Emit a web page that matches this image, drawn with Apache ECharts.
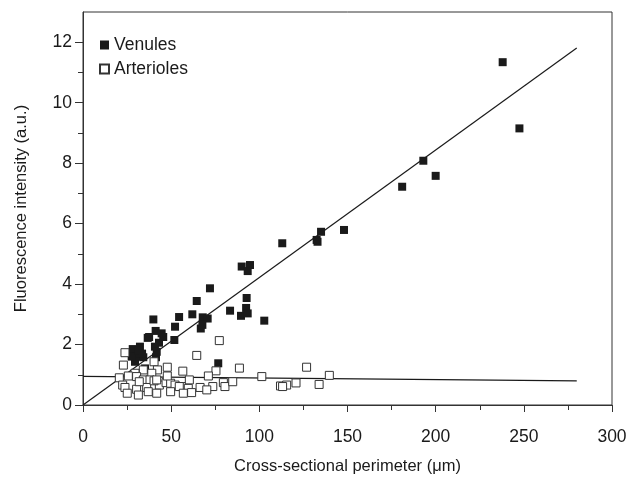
<!DOCTYPE html>
<html>
<head>
<meta charset="utf-8">
<script src="https://cdn.jsdelivr.net/npm/echarts@6/dist/echarts.min.js"></script>
<style>html,body{margin:0;padding:0;background:#fff}#c{width:632px;height:480px}</style>
</head>
<body>
<div id="c"></div>
<script>
// Venules: [perimeter (µm), fluorescence (a.u.)]
var venules = [
  [238,11.34],[247.5,9.15],[193,8.08],[200,7.58],[181,7.22],
  [148,5.79],[135,5.73],[132.5,5.46],[133,5.40],[113,5.35],
  [90,4.58],[94.7,4.63],[93.4,4.43],[72,3.86],[64.5,3.44],[92.8,3.54],
  [39.9,2.83],[54.5,2.91],[62,3.0],[67.9,2.90],[70.7,2.86],[83.4,3.12],
  [92.5,3.21],[89.6,2.95],[93.4,3.03],[102.8,2.79],[52.2,2.59],[66.8,2.53],
  [67.7,2.65],[41.2,2.45],[44.6,2.37],[36.7,2.22],[43.1,2.06],[51.8,2.15],
  [28.2,1.85],[32.3,1.93],[30.4,1.60],[34.2,1.58],[41.4,1.58],[29.5,1.43],
  [76.7,1.38],[35.2,1.21],[40.8,1.93],[41.8,1.76],[27.6,1.60],[31.5,1.80],
  [37.5,2.25],[45.5,2.25],[33.5,1.70]
];
// Arterioles
var arterioles = [
  [23.8,1.73],[22.9,1.32],[40.3,1.43],[64.5,1.64],[77.3,2.13],[56.6,1.12],
  [47.8,1.25],[42.2,1.16],[39,1.05],[34.2,1.16],[29.5,1.05],[75.4,1.13],
  [71.1,0.96],[88.7,1.22],[101.4,0.94],[112,0.63],[20.6,0.90],[25.7,0.96],
  [30.4,0.94],[34.2,0.83],[38,0.83],[43.3,0.66],[47.1,0.74],[49.7,0.72],
  [52.2,0.66],[56,0.61],[60.3,0.83],[59.7,0.55],[66.4,0.58],[73.6,0.61],
  [79.6,0.74],[80.5,0.61],[84.9,0.77],[22.5,0.66],[23.8,0.58],[25.1,0.39],
  [30.4,0.52],[31.4,0.33],[36.1,0.58],[37,0.44],[41.8,0.39],[49.7,0.44],
  [54.6,0.61],[56.9,0.39],[61.6,0.41],[70.2,0.50],[40.3,0.80],[31.9,0.77],
  [47.8,0.96],[41.8,0.83],[126.8,1.25],[139.7,0.98],[133.9,0.68],[120.8,0.73],
  [115.5,0.66],[113.2,0.61]
];
// Regression lines (end points)
var venuleFit = [[0,0],[280,11.81]];
var arterioleFit = [[0,0.95],[280,0.80]];

var xTicks = [0,50,100,150,200,250,300];
var yTicks = [0,2,4,6,8,10,12];
var yMinorTicks = [1,3,5,7,9,11];

var ink = '#1a1a1a';
var font = 'Liberation Sans, Arial, Helvetica, sans-serif';

var chart = echarts.init(document.getElementById('c'));
chart.setOption({
  animation: false,
  backgroundColor: '#fff',
  textStyle: {fontFamily: font, color: ink},
  grid: {left: 83, right: 20, top: 12, bottom: 75, show: true,
         borderColor: '#333', borderWidth: 1, backgroundColor: 'transparent'},
  legend: {
    data: ['Venules','Arterioles'], orient: 'vertical', left: 94, top: 31,
    itemWidth: 9, itemHeight: 9, itemGap: 6,
    textStyle: {fontSize: 17.5, color: ink, fontFamily: font}
  },
  xAxis: {
    type: 'value', min: 0, max: 300, interval: 50,
    name: 'Cross-sectional perimeter (\u03bcm)', nameLocation: 'middle', nameGap: 53,
    nameTextStyle: {fontSize: 16.5, color: ink, fontFamily: font},
    axisLine: {show: true, lineStyle: {color: '#333', width: 1}},
    axisTick: {show: true, inside: false, length: 7, lineStyle: {color: '#333'}},
    minorTick: {show: true, splitNumber: 2, length: 5, lineStyle: {color: '#333'}},
    axisLabel: {fontSize: 17.5, color: ink, margin: 23, fontFamily: font,
                customValues: xTicks},
    splitLine: {show: false}
  },
  yAxis: [{
    type: 'value', min: 0, max: 13,
    name: 'Fluorescence intensity (a.u.)', nameLocation: 'middle', nameGap: 53,
    nameTextStyle: {fontSize: 16.5, color: ink, fontFamily: font},
    axisLine: {show: true, lineStyle: {color: '#333', width: 1}},
    axisTick: {show: true, inside: false, length: 8, lineStyle: {color: '#333'},
               customValues: yTicks},
    axisLabel: {fontSize: 17.5, color: ink, margin: 11, fontFamily: font,
                customValues: yTicks},
    splitLine: {show: false}
  }, {
    type: 'value', min: 0, max: 13, position: 'left',
    axisLine: {show: false},
    axisTick: {show: true, inside: false, length: 5, lineStyle: {color: '#333'},
               customValues: yMinorTicks},
    axisLabel: {show: false},
    splitLine: {show: false}
  }],
  series: [
    {name: 'Venules', type: 'scatter', symbol: 'rect', symbolSize: 8,
     data: venules, itemStyle: {color: ink, opacity: 1}, z: 3},
    {name: 'Arterioles', type: 'scatter', symbol: 'rect', symbolSize: 8,
     data: arterioles, itemStyle: {color: '#fff', borderColor: '#333', borderWidth: 1, opacity: 1}, z: 4},
    {name: 'vfit', type: 'line', data: venuleFit, symbol: 'none',
     lineStyle: {color: ink, width: 1.2}, z: 2},
    {name: 'afit', type: 'line', data: arterioleFit, symbol: 'none',
     lineStyle: {color: ink, width: 1.2}, z: 2}
  ]
});
</script>
</body>
</html>
